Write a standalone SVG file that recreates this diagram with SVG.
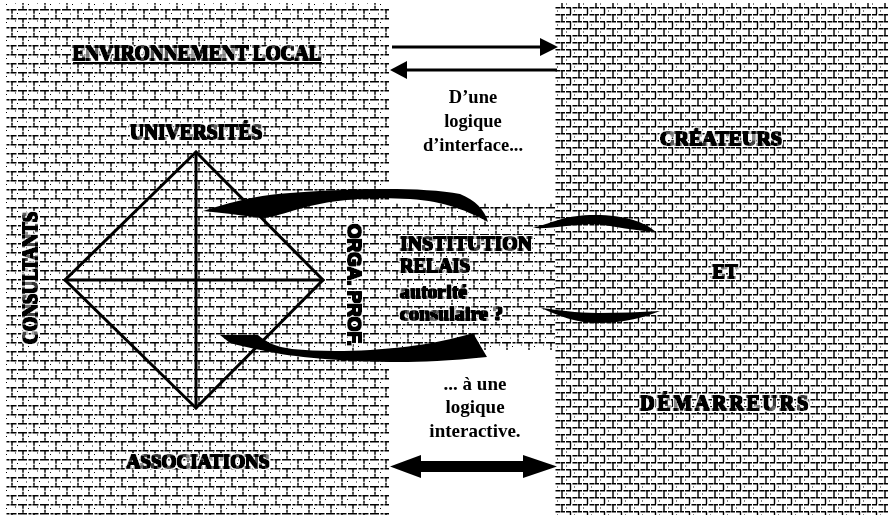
<svg xmlns="http://www.w3.org/2000/svg" width="888" height="518" viewBox="0 0 888 518">
  <defs>
    <pattern id="brick" width="22" height="18" patternUnits="userSpaceOnUse">
      <rect width="22" height="18" fill="#fff"/>
      <g stroke="#000" stroke-width="1.4" fill="none">
        <path d="M0 0.8H22M0 9.8H22" stroke-dasharray="5 1.5 3 1 6 1.5 4 1"/>
        <path d="M1 0.8V9.8M12 9.8V18.8" stroke-dasharray="4 1 3 1"/>
        <path d="M6 4.5h1M17 13.5h1M15 3h1M4 14h1" stroke-width="1.1"/>
      </g>
    </pattern>
    <pattern id="brick2" width="17" height="14" patternUnits="userSpaceOnUse">
      <rect width="17" height="14" fill="#fff"/>
      <g stroke="#000" stroke-width="1.4" fill="none">
        <path d="M0 0.8H17M0 7.8H17" stroke-dasharray="4 1 5 1.5 5 1"/>
        <path d="M1 0.8V7.8M9.5 7.8V14.8"/>
        <path d="M5 4h1M13 11h1" stroke-width="1.1"/>
      </g>
    </pattern>
    <filter id="halo" x="-15%" y="-40%" width="130%" height="180%">
      <feMorphology in="SourceAlpha" operator="dilate" radius="1.6" result="d"/>
      <feFlood flood-color="#fff"/>
      <feComposite in2="d" operator="in" result="w"/>
      <feMorphology in="SourceGraphic" operator="dilate" radius="0.55" result="b"/>
      <feMerge><feMergeNode in="w"/><feMergeNode in="b"/></feMerge>
    </filter>
    <filter id="heavy" x="-10%" y="-30%" width="120%" height="160%">
      <feMorphology in="SourceGraphic" operator="dilate" radius="0.35"/>
    </filter>
  </defs>
  <style>
    .t{font-family:"Liberation Serif","Times New Roman",serif;font-weight:bold;fill:#000}
    .s{font-family:"Liberation Sans",Arial,sans-serif;font-weight:bold;fill:#000}
    .h{filter:url(#halo)}
    .k{filter:url(#heavy)}
    .ln{stroke:#000;stroke-width:3;fill:none;stroke-linecap:round}
    .blk{fill:#000}
  </style>

  <rect width="888" height="518" fill="#fff"/>

  <!-- background panels -->
  <g id="background">
    <rect x="5" y="3" width="384" height="512" fill="url(#brick)"/>
    <rect x="388" y="203" width="168" height="147" fill="url(#brick)"/>
    <rect x="555" y="3" width="333" height="512" fill="url(#brick2)"/>
  </g>

  <!-- diamond -->
  <g id="diamond">
    <path class="ln" d="M196 152L323 280L196 408L65 280Z"/>
    <path class="ln" d="M196 152V408M65 280H323"/>
  </g>

  <!-- connectors -->
  <g id="connectors">
    <line x1="392" y1="47" x2="542" y2="47" stroke="#000" stroke-width="3"/>
    <polygon points="540,38 558,47 540,56" class="blk"/>
    <line x1="557" y1="70" x2="405" y2="70" stroke="#000" stroke-width="3"/>
    <polygon points="407,61 390,70 407,79" class="blk"/>

    <rect x="418" y="461" width="107" height="11" class="blk"/>
    <polygon points="421,455 390,466.5 421,478" class="blk"/>
    <polygon points="523,455 557,466.5 523,478" class="blk"/>

    <path class="blk" d="M203 211C230 203 255 195 290 193C340 189 420 186 460 194C475 200 485 210 488 222C470 212 445 201 410 199C370 197 340 199 310 206C290 211 276 217 262 218C245 216 225 213 203 211Z"/>
    <path class="blk" d="M220 335L258 335C266 342 276 347 292 349C340 354 420 350 473 333L487 357C450 361 420 362 400 362C350 362 300 358 270 352C255 349 240 346 230 343Z"/>
    <path class="blk" d="M533 228C555 222 565 215 595 215C625 215 645 222 656 232C635 231 615 226 595 224C572 224 555 229 533 228Z"/>
    <path class="blk" d="M541 308C560 316 575 323 598 323C625 323 645 317 660 311C640 312 620 313 598 313C575 313 560 310 541 308Z"/>
  </g>

  <!-- labels / nodes -->
  <g id="env">
    <text class="t h" x="197" y="60" font-size="20" text-anchor="middle" textLength="249" lengthAdjust="spacingAndGlyphs">ENVIRONNEMENT LOCAL</text>
    <rect x="73" y="62" width="249" height="2" class="blk"/>
  </g>
  <g id="universites">
    <text class="t h" x="196" y="139" font-size="20" text-anchor="middle" textLength="132" lengthAdjust="spacingAndGlyphs">UNIVERSITÉS</text>
  </g>
  <g id="consultants">
    <text class="t h" transform="translate(37 278) rotate(-90)" font-size="20" text-anchor="middle" textLength="132" lengthAdjust="spacingAndGlyphs">CONSULTANTS</text>
  </g>
  <g id="associations">
    <text class="t h" x="198" y="468" font-size="19" text-anchor="middle" textLength="143" lengthAdjust="spacingAndGlyphs">ASSOCIATIONS</text>
  </g>
  <g id="orga">
    <text class="s h" transform="translate(348 285) rotate(90)" font-size="18" text-anchor="middle" textLength="122" lengthAdjust="spacingAndGlyphs">ORGA. PROF.</text>
  </g>
  <g id="institution">
    <text class="t h" x="400" y="250" font-size="19.5" textLength="132" lengthAdjust="spacingAndGlyphs">INSTITUTION</text>
    <text class="t h" x="400" y="272" font-size="19.5" textLength="70" lengthAdjust="spacingAndGlyphs">RELAIS</text>
    <text class="t h" x="400" y="298" font-size="18" textLength="67" lengthAdjust="spacingAndGlyphs">autorité</text>
    <text class="t h" x="400" y="320" font-size="18" textLength="103" lengthAdjust="spacingAndGlyphs">consulaire ?</text>
  </g>
  <g id="createurs">
    <text class="t h" x="721" y="145" font-size="18" text-anchor="middle" textLength="122" lengthAdjust="spacingAndGlyphs">CRÉATEURS</text>
  </g>
  <g id="et">
    <text class="t h" x="725" y="278" font-size="19" text-anchor="middle">ET</text>
  </g>
  <g id="demarreurs">
    <text class="t h" x="724" y="410" font-size="20" text-anchor="middle" textLength="168" lengthAdjust="spacing">DÉMARREURS</text>
  </g>
  <g id="logique-interface">
    <text class="t k" x="473" y="103" font-size="18.5" text-anchor="middle">D’une</text>
    <text class="t k" x="473" y="127" font-size="18.5" text-anchor="middle">logique</text>
    <text class="t k" x="473" y="151" font-size="18.5" text-anchor="middle">d’interface...</text>
  </g>
  <g id="logique-interactive">
    <text class="t k" x="475" y="390" font-size="19" text-anchor="middle">... à une</text>
    <text class="t k" x="475" y="413" font-size="19" text-anchor="middle">logique</text>
    <text class="t k" x="475" y="437" font-size="19" text-anchor="middle">interactive.</text>
  </g>
</svg>
